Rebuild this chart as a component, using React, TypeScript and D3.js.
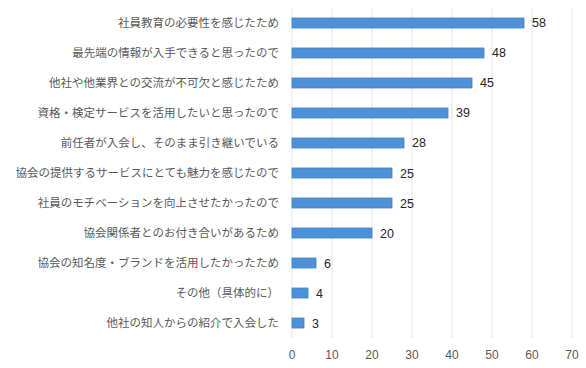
import React, { useEffect, useRef } from 'react';
import * as d3 from 'd3';

const categories = [
    '社員教育の必要性を感じたため',
    '最先端の情報が入手できると思ったので',
    '他社や他業界との交流が不可欠と感じたため',
    '資格・検定サービスを活用したいと思ったので',
    '前任者が入会し、そのまま引き継いでいる',
    '協会の提供するサービスにとても魅力を感じたので',
    '社員のモチベーションを向上させたかったので',
    '協会関係者とのお付き合いがあるため',
    '協会の知名度・ブランドを活用したかったため',
    'その他（具体的に）',
    '他社の知人からの紹介で入会した',
];
const values = [58, 48, 45, 39, 28, 25, 25, 20, 6, 4, 3];
const xTicks = [0, 10, 20, 30, 40, 50, 60, 70];

const W = 586;
const H = 368;
const margin = { top: 8, right: 14, bottom: 30, left: 292 };
const jpFont = '"Noto Sans CJK JP", sans-serif';
const numFont = '"Liberation Sans", Arial, sans-serif';

export default function App() {
    const ref = useRef<SVGSVGElement>(null);

    useEffect(() => {
        const svg = d3.select(ref.current);
        svg.selectAll('*').remove();

        const x = d3.scaleLinear().domain([0, 70]).range([margin.left, margin.left + 280]);
        const y = d3.scaleBand()
            .domain(categories)
            .range([margin.top, margin.top + 330])
            .paddingInner(0.667)
            .paddingOuter(0.333);

        // grid
        svg.append('g')
            .selectAll('line')
            .data(xTicks)
            .join('line')
            .attr('x1', (d) => x(d))
            .attr('x2', (d) => x(d))
            .attr('y1', margin.top)
            .attr('y2', margin.top + 330)
            .attr('stroke', '#e3e3e3')
            .attr('stroke-width', 1);

        // bars
        svg.append('g')
            .selectAll('rect')
            .data(values)
            .join('rect')
            .attr('x', x(0))
            .attr('y', (d, i) => y(categories[i]))
            .attr('width', (d) => x(d) - x(0))
            .attr('height', y.bandwidth())
            .attr('fill', '#4d92d9')
            .attr('stroke', '#3d80c8')
            .attr('stroke-width', 0.8);

        // value labels
        svg.append('g')
            .selectAll('text')
            .data(values)
            .join('text')
            .attr('x', (d) => x(d) + 8)
            .attr('y', (d, i) => y(categories[i]) + y.bandwidth() / 2)
            .attr('dy', '0.36em')
            .attr('font-family', numFont)
            .attr('font-size', 12.5)
            .attr('fill', '#262626')
            .text((d) => d);

        // category labels
        svg.append('g')
            .selectAll('text')
            .data(categories)
            .join('text')
            .attr('x', 279)
            .attr('y', (d) => y(d) + y.bandwidth() / 2)
            .attr('dy', '0.36em')
            .attr('text-anchor', 'end')
            .attr('font-family', jpFont)
            .attr('font-size', 11.5)
            .attr('fill', '#595959')
            .text((d) => d);

        // x tick labels
        svg.append('g')
            .selectAll('text')
            .data(xTicks)
            .join('text')
            .attr('x', (d) => x(d))
            .attr('y', 355)
            .attr('dy', '0.36em')
            .attr('text-anchor', 'middle')
            .attr('font-family', numFont)
            .attr('font-size', 12)
            .attr('fill', '#595959')
            .text((d) => d);
    }, []);

    return (
        <svg
            ref={ref}
            width={W}
            height={H}
            style={{ position: 'absolute', left: 0, top: 0, background: '#fff' }}
        />
    );
}
